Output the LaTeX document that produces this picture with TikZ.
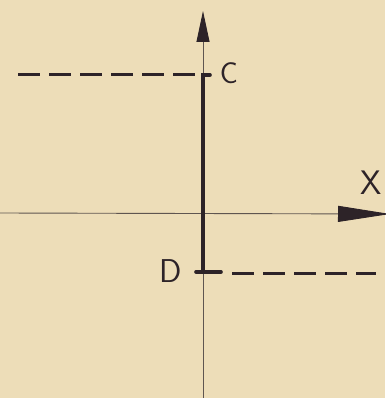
\documentclass[tikz,border=0pt]{standalone}
\usetikzlibrary{arrows.meta,calc}
\definecolor{paper}{RGB}{237,221,184}
\definecolor{ink}{RGB}{45,35,40}
\definecolor{axisink}{RGB}{95,85,80}
\begin{document}
\begin{tikzpicture}[x=1pt,y=-1pt,
  axisline/.style={draw=axisink,line width=0.9pt},
  heavy/.style={draw=ink,line width=3.6pt,line cap=round},
  dashline/.style={draw=ink,line width=3pt,dash pattern=on 22pt off 9pt},
  lbl/.style={text=ink,font=\sffamily\fontsize{30}{30}\selectfont,inner sep=0pt}]
\fill[paper] (0,0) rectangle (385,398);
\useasboundingbox (0,0) rectangle (385,398);
% axis coordinates
\coordinate (ybot) at (203,398);
\coordinate (ytop) at (203,11);
\coordinate (xleft) at (0,213);
\coordinate (xright) at (390,214);
\coordinate (Cpt) at (203,75);
\coordinate (Dpt) at (203,272);
\coordinate (Cdash) at (18,75);
\coordinate (Ctick) at (210,75);
\coordinate (Ddash) at (376,273);
\coordinate (Dtick) at (196,272);
% axes
\draw[axisline,-{Triangle[length=31pt,width=13pt,fill=ink,color=ink]}] (ybot) -- (ytop);
\draw[axisline,-{Triangle[length=52pt,width=16pt,fill=ink,color=ink]}] (xleft) -- (xright);
% dashed lines
\draw[dashline] (Cdash) -- (Cpt);
\draw[dashline] ($(Dpt)+(29,1)$) -- (Ddash);
% heavy segment
\draw[heavy] (Ctick) -- (Cpt) -- (Dpt) -- (Dtick);
\draw[heavy] (Dpt) -- (221,272);
% labels
\node[lbl] (C) at (229,73) {C};
\node[lbl,font=\sffamily\fontsize{33}{33}\selectfont] (D) at (171,271) {D};
\node[lbl,font=\sffamily\fontsize{34}{34}\selectfont] (X) at (371,183) {X};
\end{tikzpicture}
\end{document}
